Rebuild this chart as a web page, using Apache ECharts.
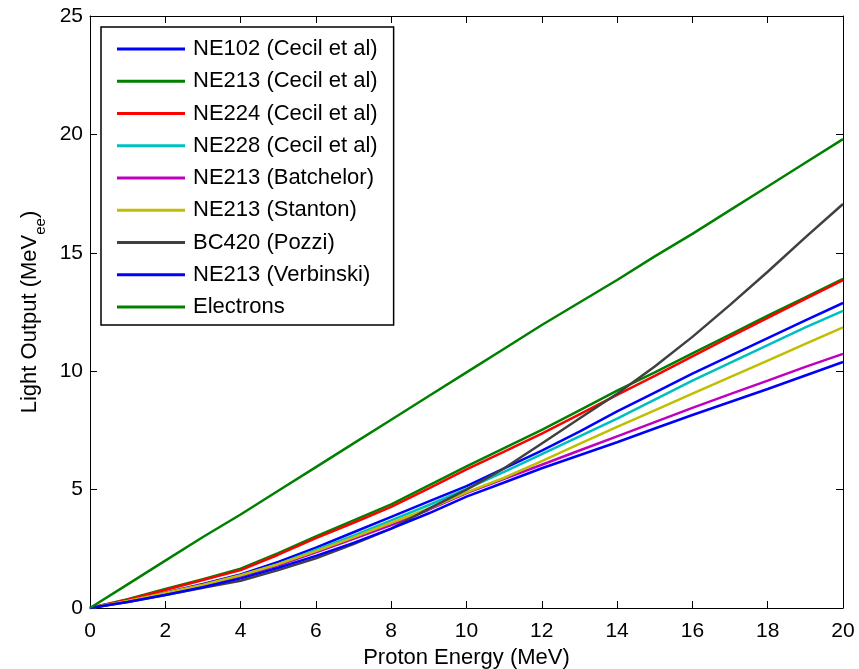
<!DOCTYPE html>
<html><head><meta charset="utf-8">
<script src="https://cdn.jsdelivr.net/npm/echarts@6/dist/echarts.min.js"></script>
<style>html,body{margin:0;padding:0;background:#fff}#c{width:859px;height:669px}</style>
</head><body><div id="c"></div>
<script>
const energies = [0,1,2,3,4,5,6,7,8,9,10,11,12,13,14,15,16,17,18,19,20];
const seriesNames = ['NE102 (Cecil et al)','NE213 (Cecil et al)','NE224 (Cecil et al)','NE228 (Cecil et al)','NE213 (Batchelor)','NE213 (Stanton)','BC420 (Pozzi)','NE213 (Verbinski)','Electrons'];
const ne102Cecil = [0,0.3,0.65,1.02,1.42,1.95,2.55,3.2,3.85,4.5,5.15,5.9,6.65,7.45,8.3,9.1,9.9,10.65,11.4,12.15,12.88];
const ne213Cecil = [0,0.37,0.8,1.22,1.66,2.32,3.02,3.7,4.38,5.18,5.98,6.75,7.52,8.35,9.18,9.95,10.75,11.55,12.35,13.12,13.9];
const ne224Cecil = [0,0.35,0.76,1.18,1.6,2.25,2.95,3.6,4.27,5.05,5.85,6.6,7.36,8.18,9.0,9.8,10.63,11.45,12.25,13.05,13.85];
const ne228Cecil = [0,0.28,0.6,0.95,1.35,1.85,2.45,3.05,3.7,4.35,5.03,5.75,6.5,7.25,8.0,8.8,9.6,10.35,11.1,11.85,12.55];
const ne213Batchelor = [0,0.28,0.6,0.95,1.35,1.8,2.35,2.92,3.5,4.15,4.85,5.45,6.05,6.65,7.25,7.85,8.45,9.03,9.6,10.18,10.73];
const ne213Stanton = [0,0.3,0.63,0.98,1.38,1.85,2.4,2.98,3.6,4.2,4.88,5.5,6.2,6.93,7.65,8.35,9.05,9.75,10.45,11.15,11.85];
const bc420Pozzi = [0,0.25,0.55,0.85,1.15,1.6,2.1,2.7,3.35,4.2,5.0,5.9,6.95,8.0,9.05,10.2,11.45,12.8,14.2,15.65,17.06];
const ne213Verbinski = [0,0.25,0.55,0.88,1.25,1.7,2.2,2.75,3.35,4.0,4.7,5.3,5.9,6.45,7.0,7.58,8.15,8.7,9.25,9.82,10.39];
const electrons = [0,1.0,2.0,3.0,3.95,4.95,5.95,6.95,7.95,8.95,9.95,10.95,11.95,12.9,13.85,14.85,15.8,16.8,17.8,18.8,19.8];
const xTicks = [0,2,4,6,8,10,12,14,16,18,20];
const yTicks = [0,5,10,15,20,25];

const allValues = [ne102Cecil,ne213Cecil,ne224Cecil,ne228Cecil,ne213Batchelor,ne213Stanton,bc420Pozzi,ne213Verbinski,electrons];
const colors = ['#0000ff','#008000','#ff0000','#00bfbf','#bf00bf','#bfbf00','#404040','#0000ff','#008000'];

const font = 'Arial, "Liberation Sans", sans-serif';
const chart = echarts.init(document.getElementById('c'), null, {renderer:'canvas'});
const axisCommon = {
  type:'value', axisLine:{show:true,onZero:false,lineStyle:{color:'#000',width:1}},
  axisTick:{show:true,inside:true,length:7,lineStyle:{color:'#000',width:1}},
  splitLine:{show:false}
};
chart.setOption({
  animation:false,
  backgroundColor:'#fff',
  grid:{left:90,right:16,top:16,bottom:61,containLabel:false,outerBoundsMode:'none'},
  legend:{
    orient:'vertical', left:101, top:27,
    padding:[11,16,7,16], itemGap:10.25,
    backgroundColor:'#fff', borderColor:'#000', borderWidth:1.5,
    icon:'rect', itemWidth:68, itemHeight:3,
    textStyle:{fontFamily:font,fontSize:22,color:'#000',lineHeight:22,padding:[0,0,0,3]},
    data:seriesNames
  },
  xAxis:[
    Object.assign({}, axisCommon, {position:'bottom', min:0, max:20, interval:2,
      name:'Proton Energy (MeV)', nameLocation:'middle', nameGap:31,
      nameTextStyle:{fontFamily:font,fontSize:22,color:'#000'},
      axisLabel:{fontFamily:font,fontSize:21,color:'#000',margin:13}}),
    Object.assign({}, axisCommon, {position:'top', min:0, max:20, interval:2, axisLabel:{show:false}})
  ],
  yAxis:[
    Object.assign({}, axisCommon, {position:'left', min:0, max:25, interval:5,
      name:'{a|Light Output (MeV}{b|ee}{a|)}', nameLocation:'middle', nameGap:44,
      nameTextStyle:{rich:{
        a:{fontFamily:font,fontSize:22,color:'#000',lineHeight:22,verticalAlign:'top'},
        b:{fontFamily:font,fontSize:15,color:'#000',lineHeight:15,verticalAlign:'top',padding:[15,0,0,0]}}},
      axisLabel:{fontFamily:font,fontSize:21,color:'#000',margin:7}}),
    Object.assign({}, axisCommon, {position:'right', min:0, max:25, interval:5, axisLabel:{show:false}})
  ],
  series: seriesNames.map((n,i)=>({
    name:n, type:'line', xAxisIndex:0, yAxisIndex:0, symbol:'none', smooth:false,
    color:colors[i], lineStyle:{color:colors[i],width:2.5},
    data: energies.map((e,j)=>[e, allValues[i][j]])
  }))
});
</script></body></html>
